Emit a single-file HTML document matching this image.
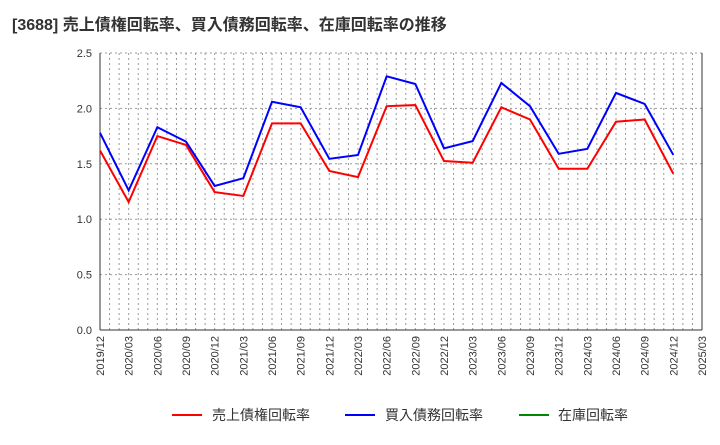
<!DOCTYPE html>
<html><head><meta charset="utf-8"><style>
body{margin:0;background:#fff;font-family:"Liberation Sans","Noto Sans CJK JP",sans-serif}
svg text{font-family:"Liberation Sans","Noto Sans CJK JP",sans-serif}
</style></head><body>
<svg id="c" width="720" height="440" xmlns="http://www.w3.org/2000/svg">
<text x="12" y="30" font-size="16" font-weight="bold" fill="#333">[3688]  売上債権回転率、買入債務回転率、在庫回転率の推移</text>
<g id="grid"></g><g id="axes"></g><g id="series"></g>
<g>
<line x1="172" y1="415" x2="202" y2="415" stroke="#f00" stroke-width="2"/>
<text x="212" y="420" font-size="14" fill="#333">売上債権回転率</text>
<line x1="345" y1="415" x2="375" y2="415" stroke="#00f" stroke-width="2"/>
<text x="385" y="420" font-size="14" fill="#333">買入債務回転率</text>
<line x1="519" y1="415" x2="549" y2="415" stroke="#080" stroke-width="2"/>
<text x="558" y="420" font-size="14" fill="#333">在庫回転率</text>
</g>
</svg>
<script>
const xLabels=["2019/12","2020/03","2020/06","2020/09","2020/12","2021/03","2021/06","2021/09","2021/12","2022/03","2022/06","2022/09","2022/12","2023/03","2023/06","2023/09","2023/12","2024/03","2024/06","2024/09","2024/12","2025/03"];
const yTicks=[0,0.5,1,1.5,2,2.5];
const receivables=[1.62,1.155,1.75,1.67,1.245,1.21,1.865,1.865,1.435,1.38,2.02,2.03,1.525,1.51,2.01,1.90,1.455,1.455,1.88,1.90,1.41];
const payables=[1.78,1.26,1.83,1.70,1.30,1.37,2.06,2.01,1.545,1.58,2.29,2.22,1.64,1.705,2.23,2.02,1.59,1.635,2.14,2.04,1.58];
const L=100,R=702,T=53,B=330,NS="http://www.w3.org/2000/svg";
const months=(xLabels.length-1)*3;
const xm=m=>L+(R-L)*m/months;
const xq=i=>xm(i*3);
const y=v=>B-(B-T)*v/2.5;
function mk(tag,attrs,parent){const e=document.createElementNS(NS,tag);for(const k in attrs)e.setAttribute(k,attrs[k]);document.getElementById(parent).appendChild(e);return e;}
for(let m=1;m<=months;m++){const e=mk('line',{x1:xm(m),x2:xm(m),y1:T,y2:B,stroke:'#999','stroke-dasharray':'2,3','stroke-width':1},'grid');

}
yTicks.forEach(t=>{if(t>0){const e=mk('line',{x1:L,x2:R,y1:y(t),y2:y(t),stroke:'#999','stroke-dasharray':'2,3'},'grid');

}
const tx=mk('text',{x:L-8,y:y(t)+4,'font-size':11,'text-anchor':'end',fill:'#333'},'axes');tx.textContent=t.toFixed(1);

});
mk('line',{x1:L,x2:L,y1:T,y2:B,stroke:'#333'},'axes');
mk('line',{x1:R,x2:R,y1:T,y2:B,stroke:'#333'},'axes');
mk('line',{x1:L,x2:R,y1:B,y2:B,stroke:'#333'},'axes');
xLabels.forEach((l,i)=>{const tx=mk('text',{transform:`translate(${xq(i)+4},${B+6}) rotate(-90)`,'font-size':11,'text-anchor':'end',fill:'#333'},'axes');tx.textContent=l;

});
function line(data,color,name){const p=mk('polyline',{points:data.map((v,i)=>xq(i)+','+y(v)).join(' '),fill:'none',stroke:color,'stroke-width':2},'series');

}
line(receivables,'#f00','receivables-line');
line(payables,'#00f','payables-line');
</script>
</body></html>
